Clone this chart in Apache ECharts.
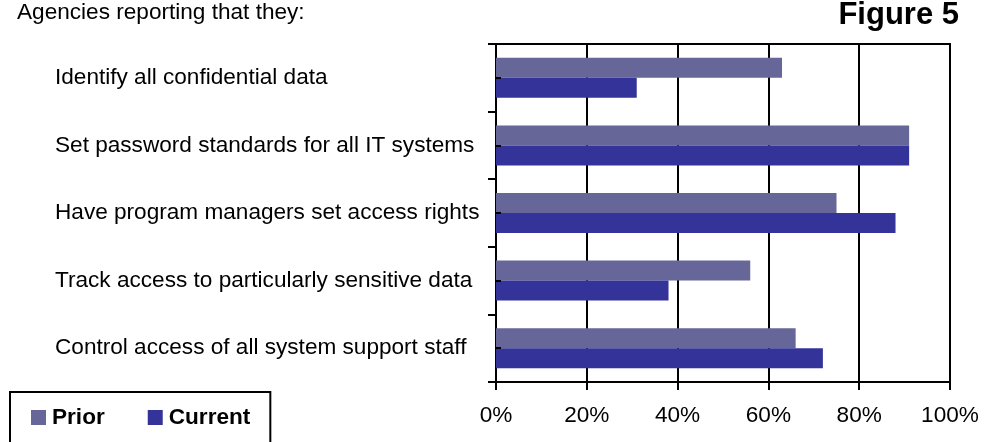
<!DOCTYPE html>
<html>
<head>
<meta charset="utf-8">
<script src="https://cdn.jsdelivr.net/npm/echarts@6/dist/echarts.min.js"></script>
<style>html,body{margin:0;padding:0;background:#fff}#c{width:986px;height:442px}</style>
</head>
<body>
<div id="c"></div>
<script>
var categories = [
  "Identify all confidential data",
  "Set password standards for all IT systems",
  "Have program managers set access rights",
  "Track access to particularly sensitive data",
  "Control access of all system support staff"
];
var priorValues = [63, 91, 75, 56, 66];
var currentValues = [31, 91, 88, 38, 72];
var seriesNames = ["Prior", "Current"];
var xTicks = [0, 20, 40, 60, 80, 100];
var titleText = "Agencies reporting that they:";
var figureText = "Figure 5";

var FONT = "'Liberation Sans', Arial, Helvetica, sans-serif";
var FS = 22.6;
var chart = echarts.init(document.getElementById('c'), null, {renderer: 'canvas'});
chart.setOption({
  animation: false,
  backgroundColor: '#ffffff',
  textStyle: {fontFamily: FONT},
  title: [
    {text: titleText, left: 17, top: 1, padding: 0,
     textStyle: {fontFamily: FONT, fontSize: FS, fontWeight: 'normal', color: '#000'}},
    {text: figureText, right: 27, top: 0, padding: 0,
     textStyle: {fontFamily: FONT, fontSize: 31, fontWeight: 'bold', color: '#000'}}
  ],
  legend: {
    data: seriesNames,
    left: 10, top: 392,
    orient: 'horizontal',
    padding: [14, 20, 40, 21],
    itemWidth: 15, itemHeight: 15, itemGap: 43,
    icon: 'rect',
    borderColor: '#000', borderWidth: 2,
    textStyle: {fontFamily: FONT, fontSize: FS, fontWeight: 'bold', color: '#000', padding: [0,0,0,1]}
  },
  grid: {left: 496, right: 36, top: 44, bottom: 60, show: true, borderColor: '#000', borderWidth: 2, containLabel: false},
  xAxis: {
    type: 'value', min: 0, max: 100, interval: 20,
    axisLine: {show: true, lineStyle: {color: '#000', width: 2}},
    axisTick: {show: true, length: 8, inside: false, lineStyle: {color: '#000', width: 2}},
    splitLine: {show: true, lineStyle: {color: '#000', width: 2}},
    axisLabel: {fontFamily: FONT, fontSize: FS, color: '#000', margin: 22,
      formatter: function (v) { return xTicks.indexOf(v) >= 0 ? v + '%' : ''; }}
  },
  yAxis: [
    {
      type: 'category', data: categories, inverse: true,
      axisLine: {show: true, lineStyle: {color: '#000', width: 2}},
      axisTick: {show: true, length: 8, inside: false, lineStyle: {color: '#000', width: 2}},
      splitLine: {show: false},
      axisLabel: {fontFamily: FONT, fontSize: FS, color: '#000', align: 'left', margin: 441}
    },
    {
      type: 'category', data: categories, inverse: true, position: 'left', z: 10,
      axisLine: {show: false},
      axisTick: {show: true, inside: true, length: 5, alignWithLabel: true, lineStyle: {color: '#000', width: 2}},
      axisLabel: {show: false},
      splitLine: {show: false}
    }
  ],
  series: [
    {name: seriesNames[0], type: 'bar', yAxisIndex: 0, data: priorValues, barWidth: 20, barGap: '0%',
     itemStyle: {color: '#666699'}},
    {name: seriesNames[1], type: 'bar', yAxisIndex: 0, data: currentValues, barWidth: 20, barGap: '0%',
     itemStyle: {color: '#333399'}}
  ]
});
</script>
</body>
</html>
